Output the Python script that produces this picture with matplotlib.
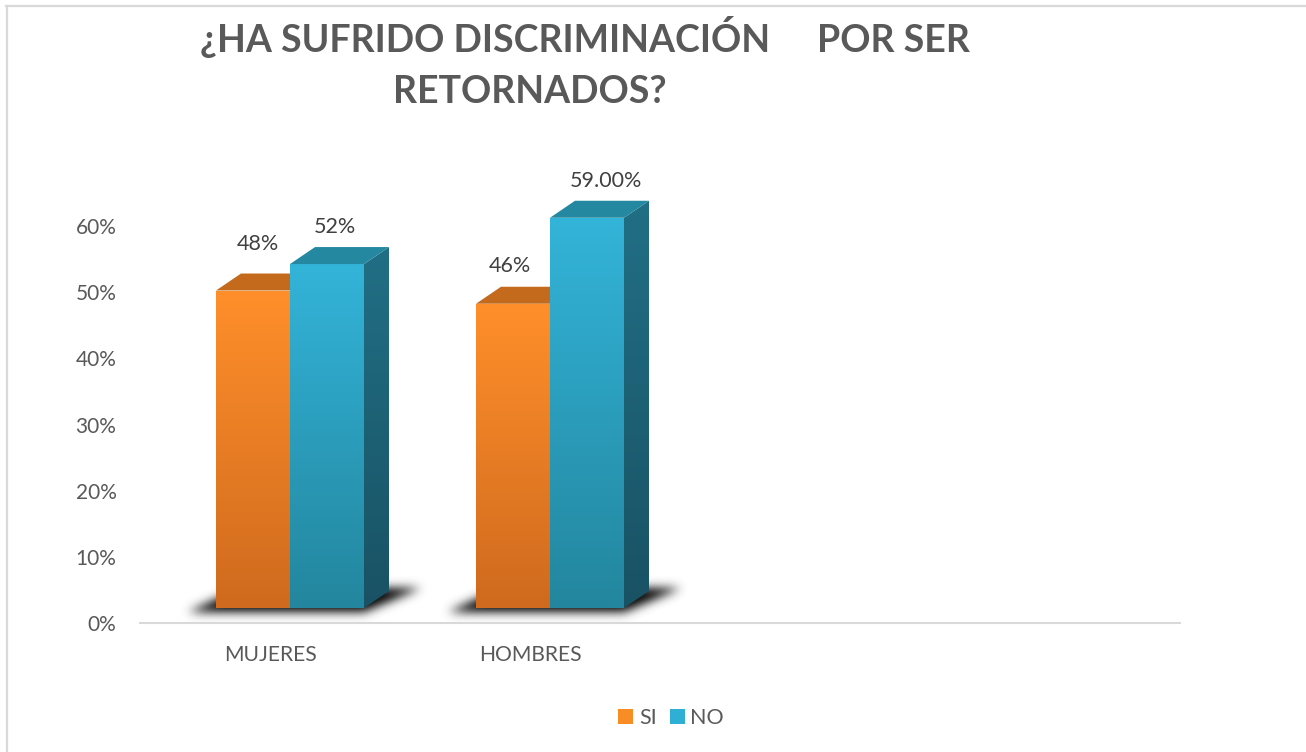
import numpy as np
import matplotlib
matplotlib.use("Agg")
import matplotlib.pyplot as plt
from matplotlib.patches import Polygon, Patch
from matplotlib.lines import Line2D

# ---------------- data ----------------
categories = ["MUJERES", "HOMBRES", "", ""]
series_names = ["SI", "NO"]
si_values = [0.48, 0.46]
no_values = [0.52, 0.59]
si_labels = ["48%", "46%"]
no_labels = ["52%", "59.00%"]
yticks = [0.0, 0.1, 0.2, 0.3, 0.4, 0.5, 0.6]
ytick_labels = ["0%", "10%", "20%", "30%", "40%", "50%", "60%"]
title_line1a = "¿HA SUFRIDO DISCRIMINACIÓN"
title_line1b = "POR SER"
title_line2 = "RETORNADOS?"

# ---------------- style ----------------
FONT = "Lato"
GRAY = "#595959"
W, H = 1306, 752
fig = plt.figure(figsize=(W / 100, H / 100), dpi=100)
fig.patch.set_facecolor("white")

ax_l, ax_r, ax_b, ax_t = 140, 1180, 623, 160
ax = fig.add_axes([ax_l / W, (H - ax_b) / H, (ax_r - ax_l) / W, (ax_b - ax_t) / H])
xmin, xmax, ymin, ymax = -0.5, 3.5, 0.0, 0.7
sx = (ax_r - ax_l) / (xmax - xmin)   # px per x unit
sy = (ax_b - ax_t) / (ymax - ymin)   # px per y unit

bar_w = 74 / sx
dx = 25 / sx
dy = 17 / sy
base = 15 / sy
shift = 20 / sx

orange_front = (np.array([255, 143, 42]) / 255, np.array([207, 106, 30]) / 255)
orange_top = np.array([196, 106, 28]) / 255
orange_side = (np.array([180, 95, 25]) / 255, np.array([150, 78, 20]) / 255)
blue_front = (np.array([51, 180, 217]) / 255, np.array([35, 134, 158]) / 255)
blue_top = np.array([35, 136, 160]) / 255
blue_side = (np.array([33, 111, 133]) / 255, np.array([25, 82, 100]) / 255)


def grad_face(verts, c_top, c_bot, z):
    verts = np.asarray(verts)
    poly = Polygon(verts, closed=True, facecolor="none", edgecolor="none", zorder=z)
    ax.add_patch(poly)
    g = np.linspace(0, 1, 256)[:, None, None]
    img = c_top[None, None, :] * (1 - g) + c_bot[None, None, :] * g
    im = ax.imshow(img, extent=(verts[:, 0].min(), verts[:, 0].max(),
                                verts[:, 1].min(), verts[:, 1].max()),
                   origin="upper", aspect="auto", zorder=z, interpolation="bilinear")
    im.set_clip_path(poly)


def draw_bar(x0, value, front, top, side, z):
    b = base
    t = base + value
    x1 = x0 + bar_w
    ax.bar(x0, value, width=bar_w, bottom=b, align="edge", color=front[0], zorder=z)
    grad_face([(x0, b), (x1, b), (x1, t), (x0, t)], front[0], front[1], z + 0.1)
    top_poly = Polygon([(x0, t), (x1, t), (x1 + dx, t + dy), (x0 + dx, t + dy)],
                       closed=True, facecolor=top, edgecolor="none", zorder=z + 0.1)
    ax.add_patch(top_poly)
    grad_face([(x1, b), (x1 + dx, b + dy), (x1 + dx, t + dy), (x1, t)], side[0], side[1], z + 0.05)


def gauss_blur(a, sigma):
    r = int(3 * sigma)
    k = np.exp(-0.5 * (np.arange(-r, r + 1) / sigma) ** 2)
    k /= k.sum()
    a = np.apply_along_axis(lambda m: np.convolve(m, k, mode="same"), 0, a)
    a = np.apply_along_axis(lambda m: np.convolve(m, k, mode="same"), 1, a)
    return a


def draw_shadow(xL, xR):
    pad_x, pad_y = 50, 22
    x_lo = xL - pad_x / sx
    x_hi = xR + dx + pad_x / sx
    y_lo = base - pad_y / sy
    y_hi = base + dy + pad_y / sy
    nx = int((x_hi - x_lo) * sx)
    ny = int((y_hi - y_lo) * sy)
    px = np.arange(nx)[None, :] + 0.5
    py = np.arange(ny)[:, None] + 0.5
    yb = (y_hi - base) * sy + 4
    yt = (y_hi - (base + dy)) * sy - 3
    frac = np.clip((yb - py) / (yb - yt), 0, 1)
    left = (xL - x_lo) * sx - 28 + frac * (dx * sx + 28)
    right = (xR - x_lo) * sx + frac * (dx * sx + 32)
    mask = ((px >= left) & (px <= right) & (py >= yt) & (py <= yb)).astype(float)
    blur = gauss_blur(mask, 5)
    img = np.zeros((ny, nx, 4))
    img[..., :3] = 0.12
    img[..., 3] = np.clip(blur * 1.15, 0, 1)
    ax.imshow(img, extent=(x_lo, x_hi, y_lo, y_hi), origin="upper",
              aspect="auto", zorder=1, interpolation="bilinear")


for i in range(len(si_values)):
    si_x0 = i + shift - bar_w
    no_x0 = i + shift
    draw_shadow(si_x0, no_x0 + bar_w)
    draw_bar(si_x0, si_values[i], orange_front, orange_top, orange_side, 3)
    draw_bar(no_x0, no_values[i], blue_front, blue_top, blue_side, 4)

# data labels
label_dx_si = [5, -3]
label_dy_si = [30, 21]
label_dx_no = [8, 19]
label_dy_no = [20, 20]
for i in range(len(si_values)):
    for x0, v, txt, ddx, ddy in [
        (i + shift - bar_w, si_values[i], si_labels[i], label_dx_si[i], label_dy_si[i]),
        (i + shift, no_values[i], no_labels[i], label_dx_no[i], label_dy_no[i]),
    ]:
        ax.annotate(txt, xy=(x0 + bar_w / 2, base + v + dy), xytext=(ddx, ddy),
                    textcoords="offset pixels", ha="center", va="center",
                    fontsize=15.5, color="#404040", family=FONT, zorder=10,
                    annotation_clip=False)

ax.set_xlim(xmin, xmax)
ax.set_ylim(ymin, ymax)
ax.set_xticks(range(len(categories)))
ax.set_xticklabels(categories, fontsize=15.2, color=GRAY, family=FONT)
ax.set_yticks(yticks)
ax.set_yticklabels(ytick_labels, fontsize=15, color=GRAY, family=FONT)
ax.tick_params(axis="x", length=0, pad=16)
ax.tick_params(axis="y", length=0, pad=17)
for s in ["top", "right", "left"]:
    ax.spines[s].set_visible(False)
ax.spines["bottom"].set_color("#D9D9D9")
ax.spines["bottom"].set_linewidth(1.5)
ax.set_facecolor("none")

# title
TSIZE = 27
fig.text(485 / W, 1 - 52 / H, title_line1a, ha="center", va="baseline",
         fontsize=TSIZE, fontweight="bold", color=GRAY, family=FONT)
fig.text(893 / W, 1 - 52 / H, title_line1b, ha="center", va="baseline",
         fontsize=TSIZE, fontweight="bold", color=GRAY, family=FONT)
fig.text(530 / W, 1 - 103 / H, title_line2, ha="center", va="baseline",
         fontsize=TSIZE, fontweight="bold", color=GRAY, family=FONT)

# legend
handles = [Patch(facecolor="#F98D25", edgecolor="none"),
           Patch(facecolor="#30AFD4", edgecolor="none")]
leg = fig.legend(handles, series_names, loc="center", bbox_to_anchor=(671 / W, 1 - 718 / H),
                 ncol=2, frameon=False, handlelength=0.7, handleheight=0.7,
                 handletextpad=0.25, columnspacing=0.6, prop={"family": FONT, "size": 15.5})
for t in leg.get_texts():
    t.set_color(GRAY)

# figure border (top and left)
fig.add_artist(Line2D([6 / W, 1], [1 - 6 / H, 1 - 6 / H], color="#D9D9D9", lw=1.6))
fig.add_artist(Line2D([7 / W, 7 / W], [0, 1 - 6 / H], color="#D9D9D9", lw=1.6))

fig.savefig("out.png", dpi=100)
